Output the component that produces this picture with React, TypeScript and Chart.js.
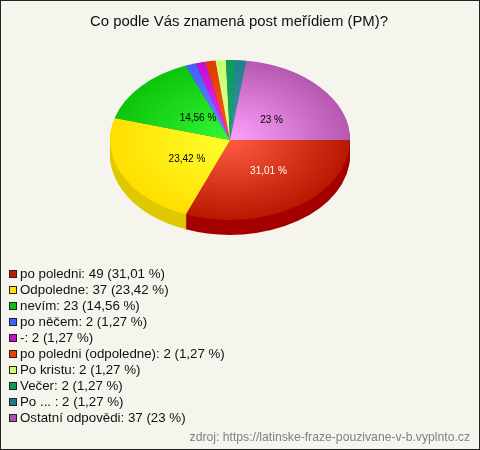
import React, { useEffect, useRef } from "react";
import { Chart, registerables, ArcElement } from "chart.js";

Chart.register(...registerables);

const TITLE = "Co podle Vás znamená post meřídiem (PM)?";
const SOURCE = "zdroj: https://latinske-fraze-pouzivane-v-b.vyplnto.cz";
const categories = ["po poledni", "Odpoledne", "nevím", "po něčem", "-", "po poledni (odpoledne)", "Po kristu", "Večer", "Po ... ", "Ostatní odpovědi"];
const values = [49, 37, 23, 2, 2, 2, 2, 2, 2, 37];
const percents = ["31,01", "23,42", "14,56", "1,27", "1,27", "1,27", "1,27", "1,27", "1,27", "23"];
// slice sizes
const sliceShares = [31.01, 23.42, 14.56, 1.365, 1.365, 1.365, 1.365, 1.365, 1.365, 22.82];
const innerColors = ["#ff5c42", "#ffff2e", "#36f736", "#6f90ff", "#ea32f4", "#ff5c14", "#e4ff96", "#14a868", "#3698a8", "#ffa2ff"];
const outerColors = ["#b81800", "#ffdf00", "#0cc40c", "#3f60ff", "#bf10cf", "#e03a00", "#c8ff70", "#0e9a5c", "#20808f", "#b658ae"];
const sideColors = ["#a50000", "#e0c800", "#0a9a0a", "#3048c8", "#9a0ca8", "#b02c00", "#a0cc58", "#0a7a48", "#186470", "#904488"];
const legendColors = ["#c01c00", "#ffe600", "#0cc00c", "#4060ff", "#c010d0", "#e84000", "#ccff66", "#0a9a5a", "#1a7a90", "#b050a8"];
const inSliceLabels: (string | null)[] = ["31,01 %", "23,42 %", "14,56 %", null, null, null, null, null, null, "23 %"];
const labelColors = ["#ffffff", "#000000", "#000000", "", "", "", "", "", "", "#000000"];

const SQUASH = 2 / 3;
const DEPTH = 15;
const BG = "#f5f5ee";
const FONT = "'Liberation Sans', Arial, sans-serif";
const LABEL_FACTOR: Record<number, [number, number]> = {
  0: [0.57, 0.48],
  1: [0.40, 0.54],
  2: [0.36, 0.40],
  9: [0.46, 0.37],
};

const pie3d = {
  id: "pie3d",
  beforeDraw(chart: any) {
    const { ctx, width, height } = chart;
    if (chart.titleBlock) {
      chart.titleBlock.left = 0;
      chart.titleBlock.right = width - 2;
    }
    ctx.save();
    ctx.fillStyle = BG;
    ctx.fillRect(0, 0, width, height);
    ctx.strokeStyle = "#222222";
    ctx.lineWidth = 1;
    ctx.strokeRect(0.5, 0.5, width - 1, height - 1);
    ctx.restore();
  },
  beforeDatasetsDraw(chart: any) {
    const { ctx } = chart;
    const arcs = chart.getDatasetMeta(0).data;
    const cx = arcs[0].x;
    const cy = arcs[0].y;
    ctx.save();
    ctx.translate(cx, cy);
    ctx.scale(1, SQUASH);
    ctx.translate(-cx, -cy);
    for (let d = DEPTH; d >= 1; d--) {
      ctx.save();
      ctx.translate(0, d / SQUASH);
      arcs.forEach((arc: ArcElement, i: number) => {
        const copy = Object.create(arc);
        Object.defineProperty(copy, "options", {
          value: {
            backgroundColor: sideColors[i], borderColor: sideColors[i], borderWidth: 0,
            borderRadius: 0, offset: 0, spacing: 0, circular: true, borderAlign: "center",
            borderJoinStyle: "round", borderDash: [], borderDashOffset: 0, selfJoin: false,
          },
        });
        copy.draw(ctx);
      });
      ctx.restore();
    }
  },
  afterDatasetsDraw(chart: any) {
    const { ctx } = chart;
    ctx.restore();
    const arcs = chart.getDatasetMeta(0).data;
    ctx.save();
    ctx.font = `10px ${FONT}`;
    ctx.textAlign = "center";
    ctx.textBaseline = "middle";
    arcs.forEach((arc: any, i: number) => {
      const t = inSliceLabels[i];
      if (!t) return;
      const mid = (arc.startAngle + arc.endAngle) / 2;
      const [fx, fy] = LABEL_FACTOR[i];
      ctx.fillStyle = labelColors[i];
      ctx.fillText(t, arc.x + Math.cos(mid) * arc.outerRadius * fx, arc.y + Math.sin(mid) * arc.outerRadius * fy * SQUASH);
    });
    ctx.restore();
  },
  afterDraw(chart: any) {
    const { ctx } = chart;
    ctx.save();
    ctx.textBaseline = "middle";
    ctx.font = `13.3px ${FONT}`;
    categories.forEach((c, i) => {
      const y = 274 + i * 16;
      ctx.fillStyle = legendColors[i];
      ctx.fillRect(9, y - 4, 8, 8);
      ctx.strokeStyle = "#222222";
      ctx.lineWidth = 1;
      ctx.strokeRect(9.5, y - 3.5, 7, 7);
      ctx.fillStyle = "#111111";
      ctx.textAlign = "left";
      ctx.fillText(`${c}: ${values[i]} (${percents[i]} %)`, 20, y);
    });
    ctx.font = `12.2px ${FONT}`;
    ctx.fillStyle = "#808080";
    ctx.textAlign = "right";
    ctx.fillText(SOURCE, 470, 438);
    ctx.restore();
  },
};

export default function App() {
  const ref = useRef<HTMLCanvasElement>(null);
  useEffect(() => {
    document.body.style.margin = "0";
    const grad = (i: number) => (c: any) => {
      const area = c.chart.chartArea;
      if (!area) return outerColors[i];
      const cx = (area.left + area.right) / 2;
      const cy = (area.top + area.bottom) / 2;
      const g = c.chart.ctx.createRadialGradient(cx, cy, 0, cx, cy, 120);
      g.addColorStop(0, innerColors[i]);
      g.addColorStop(1, outerColors[i]);
      return g;
    };
    const chart = new Chart(ref.current!, {
      type: "pie",
      data: {
        labels: categories,
        datasets: [{
          data: sliceShares,
          backgroundColor: (c: any) => grad(c.dataIndex)(c),
          borderWidth: 0,
          clip: false,
        } as any],
      },
      options: {
        responsive: false,
        animation: false,
        rotation: 90,
        radius: 120,
        layout: { padding: { right: 20, bottom: 212 } },
        events: [],
        plugins: {
          legend: { display: false },
          tooltip: { enabled: false },
          title: {
            display: true,
            text: TITLE,
            color: "#111111",
            font: { family: FONT, size: 14.9, weight: "normal" },
            padding: { top: 13, bottom: 11 },
          },
        },
      } as any,
      plugins: [pie3d],
    });
    return () => chart.destroy();
  }, []);
  return <canvas ref={ref} width={480} height={450} style={{ display: "block", width: 480, height: 450 }} />;
}
